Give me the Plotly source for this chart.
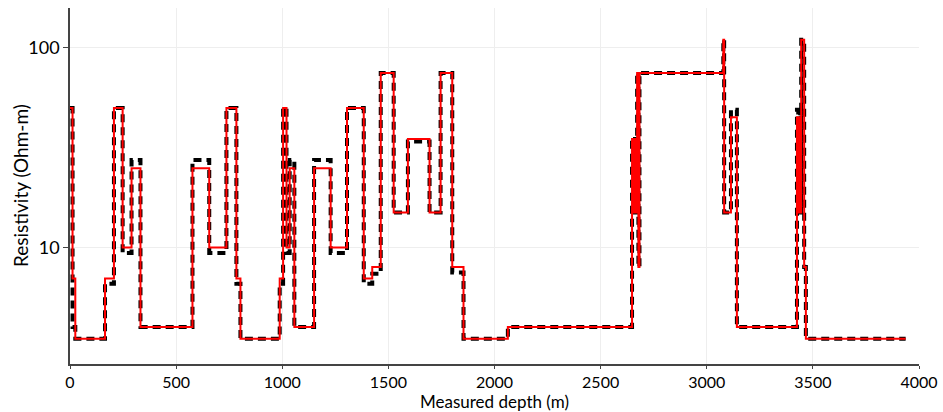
import plotly.graph_objects as go

# Layer top depths (m), shared by both curves
depth_top = [0, 12, 25, 165, 207, 248, 290, 332, 577, 656, 737, 784, 803, 988,
             1004, 1020, 1035, 1057, 1150, 1228, 1305, 1384, 1424, 1464, 1525,
             1592, 1694, 1746, 1801, 1854, 2063, 2648, 2656, 2662, 2667, 2672,
             2678, 2683, 3078, 3082, 3114, 3142, 3425, 3431, 3436, 3440, 3445,
             3459, 3467]
depth_end = 3937

# True model (black dashed)
res_true = [50, 4, 3.5, 6.6, 50, 9.4, 27.5, 4, 27.5, 9.4, 50, 6.6, 3.5, 6.6,
            50, 9.4, 27.5, 4, 27.5, 9.4, 50, 6.6, 7.4, 75, 15,
            34, 15, 75, 7.5, 3.5, 4, 35, 15, 35, 15, 75,
            8, 75, 110, 15, 49, 4, 49, 15, 49, 15, 110,
            8, 3.5]

# Estimated model (red)
res_est = [50, 7, 3.5, 7, 50, 10, 25, 4, 25, 10, 50, 7, 3.5, 7,
           50, 10, 25, 4, 25, 10, 50, 7, 8, 75, 15,
           35, 15, 75, 8, 3.5, 4, 35, 15, 35, 15, 75,
           8, 75, 110, 15, 45, 4, 45, 15, 45, 15, 110,
           8, 3.5]

x_ticks = [0, 500, 1000, 1500, 2000, 2500, 3000, 3500, 4000]
y_ticks = [10, 100]
x_title = "Measured depth (m)"
y_title = "Resistivity (Ohm-m)"

x_steps = depth_top + [depth_end]
y_true = res_true + [res_true[-1]]
y_est = res_est + [res_est[-1]]

font_family = "Lato, 'Noto Sans', sans-serif"

fig = go.Figure()
fig.add_trace(go.Scatter(x=x_steps, y=y_true, mode="lines", line_shape="hv",
                         line=dict(color="black", width=4, dash="8px,5px"),
                         name="True", showlegend=False))
fig.add_trace(go.Scatter(x=x_steps, y=y_est, mode="lines", line_shape="hv",
                         line=dict(color="#ff0000", width=2),
                         name="Estimated", showlegend=False))

fig.update_layout(
    width=943, height=412,
    margin=dict(l=70, r=24, t=8, b=48, autoexpand=False),
    paper_bgcolor="white", plot_bgcolor="white",
    font=dict(family=font_family, size=18, color="black"),
    annotations=[
        dict(text=x_title, xref="paper", yref="paper", x=0.5, y=0,
             yshift=-37, xanchor="center", yanchor="middle", showarrow=False,
             borderpad=0, font=dict(size=17)),
        dict(text=y_title, xref="paper", yref="paper", x=0, y=0.5,
             xshift=-50, xanchor="center", yanchor="middle", showarrow=False,
             textangle=-90, font=dict(size=19)),
    ],
)
fig.update_xaxes(
    range=[0, 4000], tickvals=x_ticks, automargin=False,
    showline=True, linecolor="#444", linewidth=1.5,
    ticks="outside", ticklen=3, tickcolor="#444",
    showgrid=True, gridcolor="#eeeeee", zeroline=False,
    tickfont=dict(size=16),
)
fig.update_yaxes(
    type="log", range=[0.417, 2.2], tickvals=y_ticks,
    ticktext=[str(v) for v in y_ticks], automargin=False,
    showline=True, linecolor="#444", linewidth=1.5,
    ticks="outside", ticklen=5, tickcolor="#444",
    showgrid=True, gridcolor="#eeeeee", zeroline=False,
    tickfont=dict(size=18),
)

fig.write_html("out.html")
